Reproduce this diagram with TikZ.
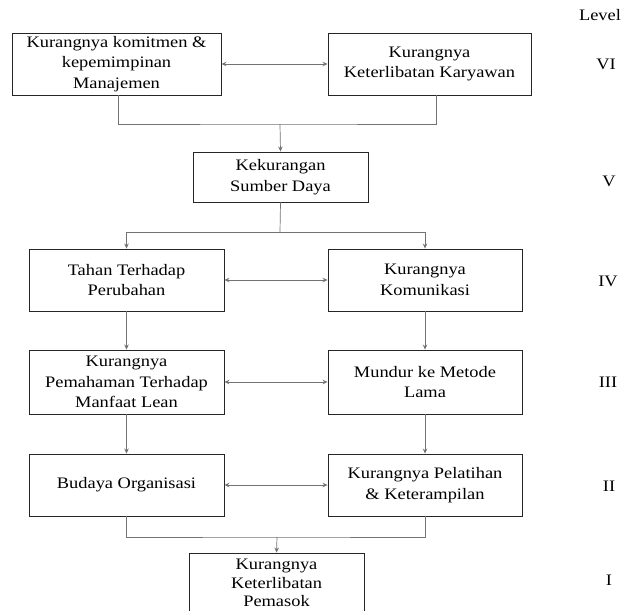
\documentclass[tikz,border=0pt]{standalone}
\usepackage{fontspec}
\setmainfont{Liberation Serif}[FakeStretch=1.15]
\usetikzlibrary{arrows.meta}

\begin{document}
\begin{tikzpicture}[x=1pt, y=-1pt, >={Stealth[length=5pt,width=4.5pt]},
    factor/.style={draw=black!85, line width=0.9pt, align=center, inner sep=2pt,
        font=\fontsize{16}{20.5}\selectfont},
    link/.style={draw=black!55, line width=0.7pt},
    lvl/.style={font=\fontsize{16}{18}\selectfont}]
    \useasboundingbox (0,0) rectangle (623,610);
    \clip (0,0) rectangle (623,610);

    % Level VI
    \node[factor, minimum width=209, minimum height=62] (vil) at (116.5,64)
        {Kurangnya komitmen \&\\kepemimpinan\\Manajemen};
    \node[factor, minimum width=203, minimum height=62] (vir) at (429.5,64)
        {Kurangnya\\Keterlibatan Karyawan};

    % Level V
    \node[factor, minimum width=175, minimum height=50] (v) at (280.5,177)
        {Kekurangan\\Sumber Daya};

    % Level IV
    \node[factor, minimum width=195, minimum height=62] (ivl) at (126.5,280)
        {Tahan Terhadap\\Perubahan};
    \node[factor, minimum width=194, minimum height=62] (ivr) at (425,280)
        {Kurangnya\\Komunikasi};

    % Level III
    \node[factor, minimum width=195, minimum height=64] (iiil) at (126.5,382)
        {Kurangnya\\Pemahaman Terhadap\\Manfaat Lean};
    \node[factor, minimum width=194, minimum height=64] (iiir) at (425,382)
        {Mundur ke Metode\\Lama};

    % Level II
    \node[factor, minimum width=195, minimum height=62] (iil) at (126.5,485)
        {Budaya Organisasi};
    \node[factor, minimum width=194, minimum height=62] (iir) at (425,485)
        {Kurangnya Pelatihan\\\& Keterampilan};

    % Level I
    \node[factor, minimum width=175, minimum height=60, font=\fontsize{16}{18.5}\selectfont]
        (i) at (276.5,583) {Kurangnya\\Keterlibatan\\Pemasok};

    % Level labels
    \node[lvl] (lev) at (600,15) {Level};
    \node[lvl] (l6) at (606,64) {VI};
    \node[lvl] (l5) at (609,181) {V};
    \node[lvl] (l4) at (608,281) {IV};
    \node[lvl] (l3) at (608,382) {III};
    \node[lvl] (l2) at (609,486) {II};
    \node[lvl] (l1) at (609,580) {I};

    % Junctions
    \coordinate (j6) at (280,124);
    \coordinate (j5) at (280,232);
    \coordinate (j1) at (277,537);

    % Two-way links
    \draw[link, <->] (vil) -- (vir);
    \draw[link, <->] (ivl) -- (ivr);
    \draw[link, <->] (iiil) -- (iiir);
    \draw[link, <->] (iil) -- (iir);

    % Downward links
    \draw[link] ([xshift=1.5pt]vil.south) |- (j6) -| ([xshift=6.5pt]vir.south);
    \draw[link, ->] (j6) -- (v.north);
    \draw[link] (v.south) -- (j5);
    \draw[link, ->] (j5) -| (ivl.north);
    \draw[link, ->] (j5) -| (ivr.north);
    \draw[link, ->] (ivl) -- (iiil);
    \draw[link, ->] (ivr) -- (iiir);
    \draw[link, ->] (iiil) -- (iil);
    \draw[link, ->] (iiir) -- (iir);
    \draw[link] (iil.south) |- (j1) -| (iir.south);
    \draw[link, ->] (j1) -- (i.north);
\end{tikzpicture}
\end{document}
